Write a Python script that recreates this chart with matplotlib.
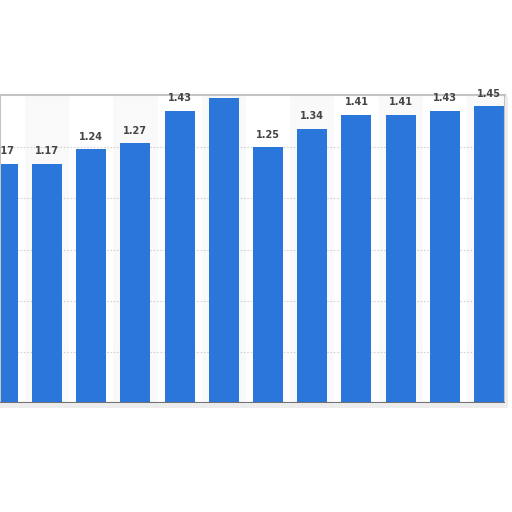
import matplotlib
matplotlib.use("Agg")
import matplotlib.pyplot as plt
from matplotlib.patches import Rectangle

categories = [str(i) for i in range(1, 13)]
values = [1.17, 1.17, 1.24, 1.27, 1.43, 1.49, 1.25, 1.34, 1.41, 1.41, 1.43, 1.45]
labels = ["1.17", "1.17", "1.24", "1.27", "1.43", "", "1.25", "1.34", "1.41", "1.41", "1.43", "1.45"]
yticks = [0, 0.25, 0.5, 0.75, 1.0, 1.25, 1.5]

W = H = 512
fig = plt.figure(figsize=(5.12, 5.12), dpi=100)
fig.patch.set_facecolor("white")

ax_l, ax_r, ax_t, ax_b = 0, 505, 95, 403
ax = fig.add_axes([ax_l / W, 1 - ax_b / H, (ax_r - ax_l) / W, (ax_b - ax_t) / H])

# soft shadow below and right of the panel
fig.patches.append(Rectangle((0, 1 - 408 / H), 507 / W, 5 / H, transform=fig.transFigure,
                             facecolor="#ececec", edgecolor="none", zorder=0))
fig.patches.append(Rectangle((505 / W, 1 - 407 / H), 3 / W, 310 / H, transform=fig.transFigure,
                             facecolor="#ececec", edgecolor="none", zorder=0))

x = list(range(len(values)))
for i in x:
    if i % 2 == 1:
        ax.axvspan(i - 0.5, i + 0.5, color="#f9f9f9", zorder=0, lw=0)

for yv in yticks[1:-1]:
    ax.axhline(yv, color="#d2d2d2", lw=0.8, ls=(0, (1.5, 1.5)), zorder=1)

ax.bar(x, values, width=0.68, color="#2a76db", zorder=2)

for i, (v, lab) in enumerate(zip(values, labels)):
    if lab:
        ax.text(i, v + 0.037, lab, ha="center", va="bottom", fontsize=7,
                fontweight="bold", color="#444444", zorder=4, clip_on=False)

ax.set_xlim(-0.063, 11.36)
ax.set_ylim(0, 1.506)
ax.set_xticks([])
ax.set_yticks([])
for s in ["top", "right", "left"]:
    ax.spines[s].set_color("#c4c4c4")
    ax.spines[s].set_linewidth(1.5)
ax.spines["bottom"].set_color("#707070")
ax.spines["bottom"].set_linewidth(1.5)

fig.savefig("out.png", dpi=100, facecolor="white")
